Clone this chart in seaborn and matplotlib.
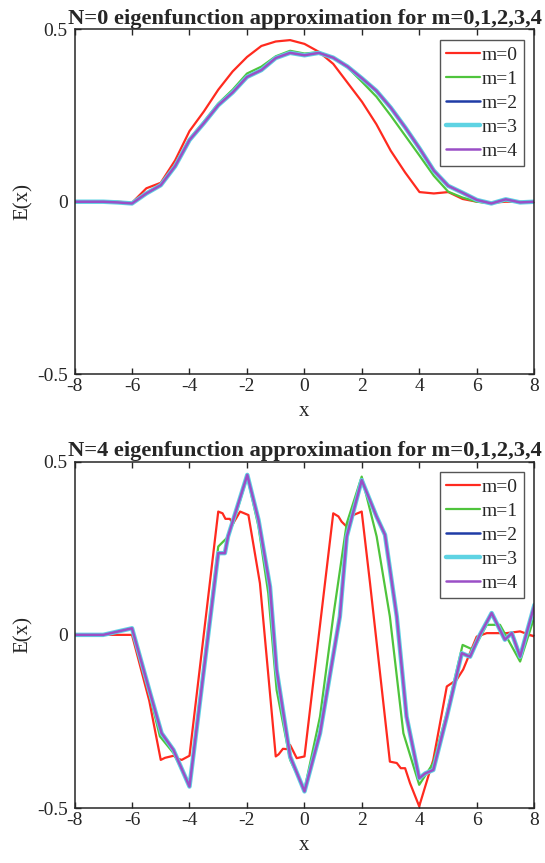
import numpy as np
import pandas as pd
import matplotlib
matplotlib.use("Agg")
import matplotlib.pyplot as plt
import seaborn as sns

# ---------------- data ----------------
labels = ["m=0", "m=1", "m=2", "m=3", "m=4"]
colors = ["#FF2A1F", "#4FC43C", "#1F3CA6", "#5ED3E3", "#9A4FC6"]
widths = [1.6, 1.6, 1.8, 3.2, 1.8]

# Panel N=0
top_x = [-8, -7, -6.5, -6, -5.5, -5, -4.5, -4, -3.5, -3, -2.5, -2, -1.5, -1, -0.5, 0,
         0.5, 1, 1.5, 2, 2.5, 3, 3.5, 4, 4.5, 5, 5.5, 6, 6.5, 7, 7.5, 8]
top_m0 = [0, 0, 0, -0.003, 0.039, 0.055, 0.12, 0.205, 0.262, 0.325, 0.378, 0.42, 0.452,
          0.465, 0.469, 0.458, 0.435, 0.40, 0.345, 0.29, 0.225, 0.148, 0.085, 0.028,
          0.024, 0.028, 0.008, 0.0, -0.003, 0.0, 0.0, 0.0]
top_m1 = [0, 0, -0.002, -0.004, 0.025, 0.05, 0.105, 0.182, 0.232, 0.285, 0.325, 0.372,
          0.392, 0.422, 0.438, 0.43, 0.434, 0.418, 0.39, 0.348, 0.305, 0.25, 0.192,
          0.134, 0.075, 0.029, 0.012, 0.0, -0.005, 0.003, -0.002, 0.0]
top_m2 = [0, 0, -0.002, -0.005, 0.024, 0.048, 0.103, 0.179, 0.228, 0.28, 0.317, 0.362,
          0.382, 0.417, 0.432, 0.425, 0.432, 0.418, 0.392, 0.358, 0.322, 0.273, 0.216,
          0.155, 0.09, 0.046, 0.026, 0.005, -0.005, 0.007, -0.002, 0.0]
top_m3 = list(top_m2)
top_m4 = list(top_m2)

# Panel N=4
bot_x0 = [-8, -6, -5.4, -5.0, -4.85, -4.7, -4.55, -4.4, -4.27, -4.0, -3.0, -2.85, -2.75,
          -2.6, -2.48, -2.24, -1.95, -1.55, -1.0, -0.9, -0.75, -0.6, -0.5, -0.27, 0.0,
          1.0, 1.18, 1.29, 1.46, 1.7, 1.99, 2.28, 2.97, 3.21, 3.35, 3.5, 3.67, 3.99,
          4.48, 4.95, 5.29, 5.52, 5.99, 6.34, 7.03, 7.5, 8.0]
bot_m0 = [0, 0, -0.19, -0.361, -0.355, -0.352, -0.349, -0.358, -0.361, -0.349, 0.356,
          0.351, 0.335, 0.335, 0.322, 0.356, 0.346, 0.149, -0.351, -0.345, -0.329, -0.33,
          -0.318, -0.356, -0.351, 0.351, 0.342, 0.327, 0.313, 0.346, 0.356, 0.149,
          -0.366, -0.37, -0.385, -0.385, -0.428, -0.495, -0.361, -0.149, -0.13, -0.10,
          -0.005, 0.005, 0.005, 0.01, -0.005]
bot_x1 = [-8, -7, -6, -5.37, -5.03, -4.56, -4.0, -3.0, -2.71, -2.48, -1.99, -1.6, -1.26,
          -0.97, -0.5, 0.0, 0.54, 1.0, 1.47, 1.99, 2.51, 2.97, 3.44, 3.99, 4.48, 4.95,
          5.5, 5.87, 6.34, 6.8, 7.5, 8.0]
bot_m1 = [0, 0, 0.02, -0.178, -0.293, -0.341, -0.433, 0.255, 0.279, 0.322, 0.457, 0.313,
          0.12, -0.159, -0.361, -0.447, -0.236, 0.053, 0.322, 0.457, 0.284, 0.053,
          -0.284, -0.433, -0.37, -0.226, -0.029, -0.043, 0.029, 0.029, -0.077, 0.053]
bot_x2 = [-8, -7, -6, -5.37, -4.97, -4.56, -4.0, -3.0, -2.77, -2.66, -1.99, -1.6, -1.2,
          -0.97, -0.5, 0.0, 0.54, 1.23, 1.47, 1.99, 2.51, 2.8, 3.21, 3.55, 3.99, 4.2,
          4.48, 4.95, 5.47, 5.76, 6.1, 6.51, 6.97, 7.21, 7.5, 8.0]
bot_m2 = [0, 0, 0.019, -0.168, -0.284, -0.332, -0.438, 0.236, 0.236, 0.284, 0.462, 0.332,
          0.139, -0.101, -0.351, -0.452, -0.284, 0.053, 0.284, 0.447, 0.341, 0.289,
          0.053, -0.236, -0.414, -0.40, -0.39, -0.236, -0.053, -0.063, 0.0, 0.063,
          -0.014, 0.005, -0.063, 0.087]
bot_m3 = list(bot_m2)
bot_m4 = list(bot_m2)

x_ticks = [-8, -6, -4, -2, 0, 2, 4, 6, 8]
y_ticks = [-0.5, 0, 0.5]
y_ticklabels = ["-0.5", "0", "0.5"]
titles = ["N=0 eigenfunction approximation for m=0,1,2,3,4",
          "N=4 eigenfunction approximation for m=0,1,2,3,4"]

# ---------------- style ----------------
sns.set_style("ticks")
plt.rcParams["font.family"] = ["Liberation Serif", "DejaVu Serif"]
plt.rcParams["axes.edgecolor"] = "#262626"
plt.rcParams["axes.linewidth"] = 1.1
plt.rcParams["xtick.color"] = "#262626"
plt.rcParams["ytick.color"] = "#262626"
plt.rcParams["text.color"] = "#262626"
plt.rcParams["axes.labelcolor"] = "#262626"

fig = plt.figure(figsize=(5.45, 8.63), dpi=100)
ax_top = fig.add_axes([0.1367, 0.5666, 0.844, 0.3993])
ax_bot = fig.add_axes([0.1367, 0.0637, 0.844, 0.4013])

panels = [
    (ax_top, [top_x] * 5, [top_m0, top_m1, top_m2, top_m3, top_m4]),
    (ax_bot, [bot_x0, bot_x1, bot_x2, bot_x2, bot_x2], [bot_m0, bot_m1, bot_m2, bot_m3, bot_m4]),
]

for i, (ax, xs, ys) in enumerate(panels):
    for xv, yv, lab, col, lw in zip(xs, ys, labels, colors, widths):
        df = pd.DataFrame({"x": xv, "E": yv})
        sns.lineplot(data=df, x="x", y="E", ax=ax, color=col, linewidth=lw,
                     label=lab, sort=False, estimator=None)
    ax.set_xlim(-8, 8)
    ax.set_ylim(-0.5, 0.5)
    ax.set_xticks(x_ticks)
    ax.set_xticklabels([str(t) for t in x_ticks])
    ax.set_yticks(y_ticks)
    ax.set_yticklabels(y_ticklabels)
    ax.tick_params(direction="in", length=4, width=1, top=True, right=True,
                   labelsize=14)
    ax.tick_params(axis="x", pad=3)
    ax.tick_params(axis="y", pad=5)
    ax.set_xlabel("x", fontsize=15, labelpad=5)
    ax.set_ylabel("E(x)", fontsize=15, labelpad=3)
    ax.set_title(titles[i], fontsize=16.2, fontweight="bold", pad=4)
    for s in ax.spines.values():
        s.set_visible(True)
    leg = ax.legend(loc="upper right", fontsize=14, frameon=True, fancybox=False,
                    framealpha=1, edgecolor="#555555", handlelength=1.75,
                    handletextpad=0.1, labelspacing=0.33, borderpad=0.3,
                    borderaxespad=0.55)
    leg.get_frame().set_linewidth(1.0)

fig.savefig("out.png", dpi=100)
